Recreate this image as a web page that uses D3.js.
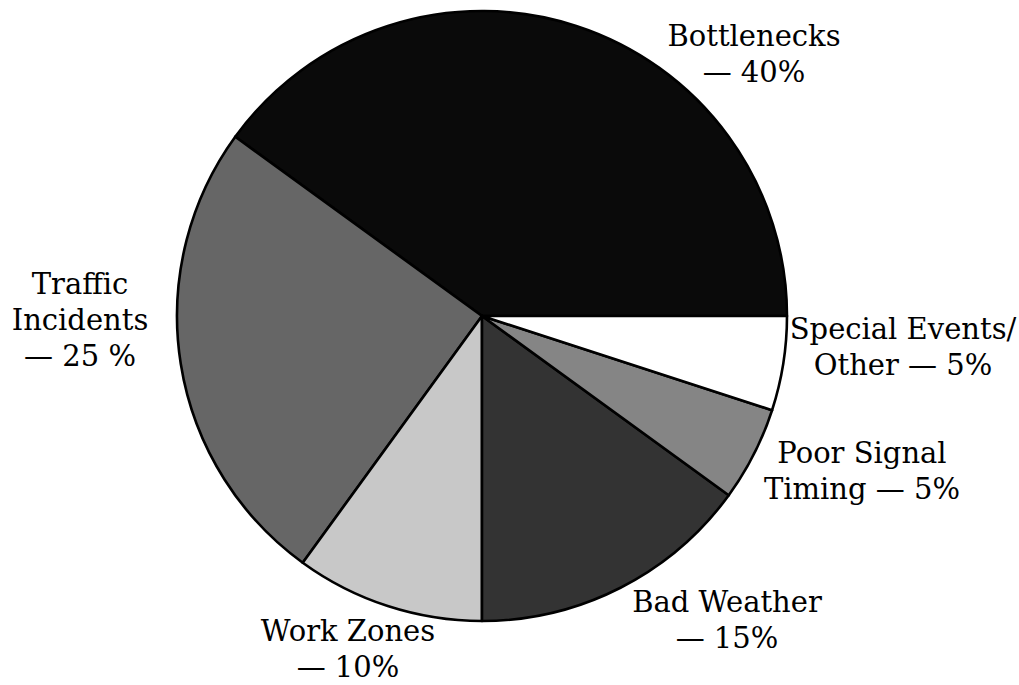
<!DOCTYPE html>
<html>
<head>
<meta charset="utf-8">
<script src="https://cdn.jsdelivr.net/npm/d3@7"></script>
<style>
  html, body { margin: 0; padding: 0; background: #fff; }
  #chart { width: 1019px; height: 685px; }
  .lbl { font-family: "DejaVu Serif", "Liberation Serif", serif; font-size: 29px; fill: #000; }
</style>
</head>
<body>
<div id="chart"></div>
<script>
// 데이터
const categories = ["Bottlenecks", "Traffic Incidents", "Work Zones", "Bad Weather", "Poor Signal Timing", "Special Events/Other"];
const shares = [40, 25, 10, 15, 5, 5];
const fills = ["#0a0a0a", "#666666", "#c8c8c8", "#333333", "#858585", "#ffffff"];
// 라벨 줄 (그림 그대로)
const labelLines = [
  ["Bottlenecks", "— 40%"],
  ["Traffic", "Incidents", "— 25 %"],
  ["Work Zones", "— 10%"],
  ["Bad Weather", "— 15%"],
  ["Poor Signal", "Timing — 5%"],
  ["Special Events/", "Other — 5%"]
];
// 라벨 위치 (첫 줄 baseline 중심)
const labelPos = [[754, 46], [80, 294], [348, 641], [727, 612], [862, 463], [903, 339]];

const W = 1019, H = 685;
const cx = 482, cy = 316, R = 305;

const svg = d3.select("#chart").append("svg")
  .attr("width", W).attr("height", H)
  .attr("viewBox", `0 0 ${W} ${H}`);

// 동쪽(3시)에서 시작해서 반시계 방향
const pie = d3.pie().sort(null).value(d => d.v)
  .startAngle(Math.PI / 2).endAngle(Math.PI / 2 - 2 * Math.PI);
const arc = d3.arc().innerRadius(0).outerRadius(R);

const data = categories.map((c, i) => ({ c, v: shares[i], fill: fills[i] }));

const g = svg.append("g").attr("transform", `translate(${cx},${cy})`);
g.selectAll("path").data(pie(data)).join("path")
  .attr("d", arc)
  .attr("fill", d => d.data.fill)
  .attr("stroke", "#000")
  .attr("stroke-width", 2.6)
  .attr("stroke-linejoin", "round");

// 라벨
const lh = 36;
labelLines.forEach((lines, i) => {
  const t = svg.append("text").attr("class", "lbl")
    .attr("text-anchor", "middle")
    .attr("x", labelPos[i][0]).attr("y", labelPos[i][1]);
  lines.forEach((s, j) => {
    t.append("tspan").attr("x", labelPos[i][0]).attr("dy", j ? lh : 0).text(s);
  });
});
</script>
</body>
</html>
